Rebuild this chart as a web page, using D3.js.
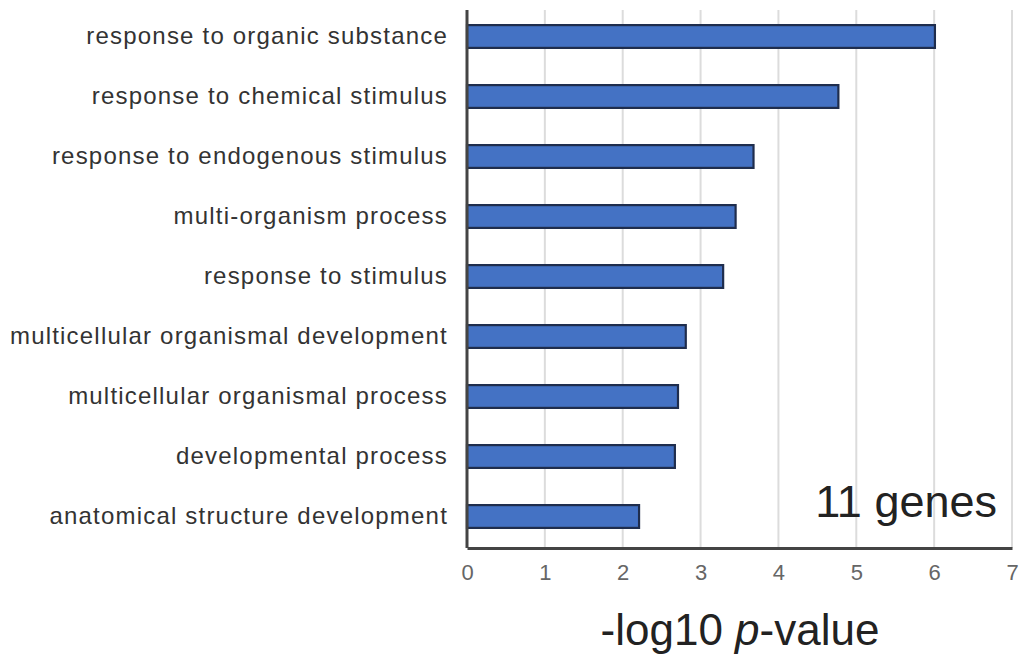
<!DOCTYPE html>
<html>
<head>
<meta charset="utf-8">
<script src="https://cdn.jsdelivr.net/npm/d3@7"></script>
<style>
  html, body { margin: 0; padding: 0; background: #fff; }
  svg { display: block; }
  text { font-family: "Liberation Sans", Arial, Helvetica, sans-serif; }
</style>
</head>
<body>
<svg id="chart" width="1024" height="659"></svg>
<script>
// GO terms enriched among the 11 genes, top to bottom
const terms = [
  "response to organic substance",
  "response to chemical stimulus",
  "response to endogenous stimulus",
  "multi-organism process",
  "response to stimulus",
  "multicellular organismal development",
  "multicellular organismal process",
  "developmental process",
  "anatomical structure development"
];
// -log10 p-value for each term
const negLogP = [6.01, 4.77, 3.68, 3.45, 3.29, 2.81, 2.71, 2.67, 2.21];
const xTicks = [0, 1, 2, 3, 4, 5, 6, 7];
const geneNote = "11 genes";

const svg = d3.select("#chart");

const plot = { left: 467, right: 1012, top: 10, bottom: 548 };

const x = d3.scaleLinear().domain([0, 7]).range([plot.left, plot.right]);
const y = d3.scaleBand()
  .domain(terms)
  .range([6.5, 546.5])
  .paddingInner(0.62)
  .paddingOuter(0.31);

// vertical gridlines
svg.append("g")
  .selectAll("line")
  .data(xTicks.slice(1))
  .join("line")
  .attr("x1", d => x(d)).attr("x2", d => x(d))
  .attr("y1", plot.top).attr("y2", plot.bottom)
  .attr("stroke", "#dcdcdc")
  .attr("stroke-width", 2);

// bars
svg.append("g")
  .selectAll("rect")
  .data(terms)
  .join("rect")
  .attr("x", x(0))
  .attr("y", d => y(d))
  .attr("width", (d, i) => x(negLogP[i]) - x(0))
  .attr("height", y.bandwidth())
  .attr("fill", "#4472c4")
  .attr("stroke", "#1f2d4d")
  .attr("stroke-width", 2.2);

// x axis
const xAxis = d3.axisBottom(x)
  .tickValues(xTicks)
  .tickFormat(d3.format("d"))
  .tickSize(0)
  .tickPadding(16);
const gx = svg.append("g")
  .attr("transform", `translate(0,${plot.bottom})`)
  .call(xAxis);
gx.select(".domain").attr("stroke", "#444").attr("stroke-width", 3);
gx.selectAll("text")
  .attr("font-size", 22)
  .attr("fill", "#666")
  .style("font-family", "'Liberation Sans', Arial, sans-serif");

// y axis
const yAxis = d3.axisLeft(y).tickSize(0).tickPadding(19);
const gy = svg.append("g")
  .attr("transform", `translate(${plot.left},0)`)
  .call(yAxis);
gy.select(".domain")
  .attr("d", `M0,${plot.top}V${plot.bottom}`)
  .attr("stroke", "#444").attr("stroke-width", 3);
gy.selectAll("text")
  .attr("font-size", 24)
  .attr("letter-spacing", 1.2)
  .attr("fill", "#333")
  .style("font-family", "'Liberation Sans', Arial, sans-serif");

// axis title
const title = svg.append("text")
  .attr("x", 740)
  .attr("y", 645)
  .attr("text-anchor", "middle")
  .attr("font-size", 44)
  .attr("fill", "#222");
title.append("tspan").text("-log10 ");
title.append("tspan").attr("font-style", "italic").text("p");
title.append("tspan").text("-value");

// gene count annotation
svg.append("text")
  .attr("x", 997)
  .attr("y", 517)
  .attr("text-anchor", "end")
  .attr("font-size", 45)
  .attr("fill", "#222")
  .text(geneNote);
</script>
</body>
</html>
